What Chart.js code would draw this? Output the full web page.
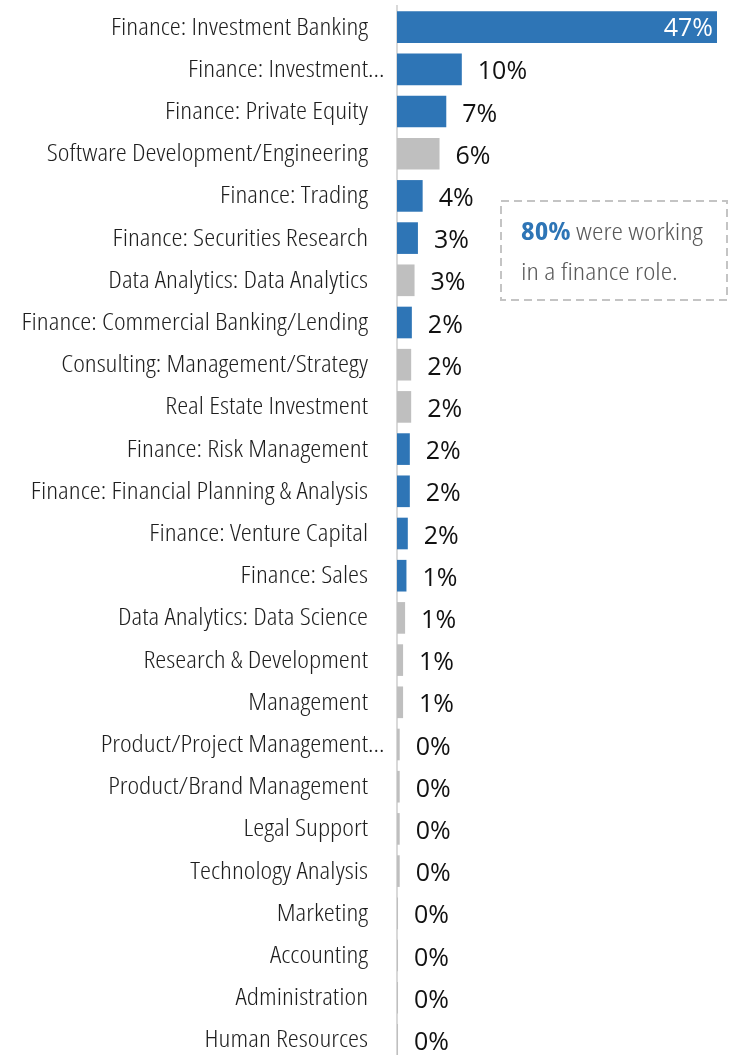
<!DOCTYPE html>
<html>
<head>
<meta charset="utf-8">
<script src="https://cdn.jsdelivr.net/npm/chart.js@4"></script>
<style>
  html, body { margin: 0; padding: 0; background: #fff; overflow: hidden; }
  #wrap { position: relative; width: 734px; height: 1062px; }
</style>
</head>
<body>
<div id="wrap"><canvas id="roleChart" width="734" height="1062"></canvas></div>
<script>
// roles, top to bottom
let roles = [
    "Finance: Investment Banking",
    "Finance: Investment...",
    "Finance: Private Equity",
    "Software Development/Engineering",
    "Finance: Trading",
    "Finance: Securities Research",
    "Data Analytics: Data Analytics",
    "Finance: Commercial Banking/Lending",
    "Consulting: Management/Strategy",
    "Real Estate Investment",
    "Finance: Risk Management",
    "Finance: Financial Planning & Analysis",
    "Finance: Venture Capital",
    "Finance: Sales",
    "Data Analytics: Data Science",
    "Research & Development",
    "Management",
    "Product/Project Management...",
    "Product/Brand Management",
    "Legal Support",
    "Technology Analysis",
    "Marketing",
    "Accounting",
    "Administration",
    "Human Resources"
];

// share of graduates in each role (%)
let shares = [
    47.4, 9.6, 7.3, 6.3, 3.8, 3.1, 2.6, 2.2, 2.1, 2.1,
    1.9, 1.9, 1.6, 1.4, 1.2, 0.9, 0.9, 0.4, 0.4, 0.4,
    0.4, 0.15, 0.15, 0.15, 0.15
];

let calloutHighlight = "80%";
let calloutLines = [" were working", "in a finance role."];

const BLUE = "#2e75b6";
const GREY = "#bfbfbf";
const LABEL_FONT = '"Open Sans", "DejaVu Sans Condensed", sans-serif';

let barColors = roles.map(r => r.indexOf("Finance") === 0 ? BLUE : GREY);

// the labels in the original use a narrow face; fit ours to the same width
function setNarrow(ctx, font) {
    ctx.font = font;
    try { ctx.fontStretch = "semi-condensed"; } catch (e) {}
}
function squeezeFactor(ctx) {
    setNarrow(ctx, "300 23px " + LABEL_FONT);
    let w = ctx.measureText("Finance: Investment Banking").width;
    return 257 / w;
}
function squeezedText(ctx, txt, x, y, sx) {
    ctx.save();
    ctx.translate(x, y);
    ctx.scale(sx, 1);
    ctx.fillText(txt, 0, 0);
    ctx.restore();
}

// category labels drawn at the y scale's tick positions
const roleLabels = {
    id: "roleLabels",
    afterDraw(chart) {
        let ctx = chart.ctx;
        let yScale = chart.scales.y;
        let right = chart.chartArea.left - 29;
        ctx.save();
        let sx = squeezeFactor(ctx);
        setNarrow(ctx, "300 23px " + LABEL_FONT);
        ctx.fillStyle = "#1e1e1e";
        ctx.textBaseline = "middle";
        yScale.ticks.forEach((t, i) => {
            let label = yScale.getLabelForValue(t.value);
            let y = yScale.getPixelForTick(i) + 1;
            if (label.endsWith("...")) {
                // truncated labels: the words line up, the dots hang over
                let stem = label.slice(0, -3);
                ctx.textAlign = "left";
                squeezedText(ctx, label, right - ctx.measureText(stem).width * sx, y, sx);
            } else {
                ctx.textAlign = "right";
                squeezedText(ctx, label, right, y, sx);
            }
        });
        ctx.restore();
    }
};

// value labels next to / inside the bars
const valueLabels = {
    id: "valueLabels",
    afterDatasetsDraw(chart) {
        let ctx = chart.ctx;
        let meta = chart.getDatasetMeta(0);
        ctx.save();
        ctx.font = '25px "Open Sans", sans-serif';
        ctx.textBaseline = "middle";
        meta.data.forEach((bar, i) => {
            let txt = Math.round(shares[i]) + "%";
            if (bar.x - bar.base > 120) {
                ctx.fillStyle = "#ffffff";
                ctx.textAlign = "right";
                ctx.fillText(txt, bar.x - 4, bar.y + 2);
            } else {
                ctx.fillStyle = "#111111";
                ctx.textAlign = "left";
                ctx.fillText(txt, bar.x + 16, bar.y + 3);
            }
        });
        ctx.restore();
    }
};

// dashed callout box
const callout = {
    id: "callout",
    afterDraw(chart) {
        let ctx = chart.ctx;
        ctx.save();
        let sx = squeezeFactor(ctx);
        ctx.setLineDash([8, 5]);
        ctx.strokeStyle = "#c4c4c4";
        ctx.lineWidth = 2;
        ctx.strokeRect(501, 201, 226, 99);
        ctx.setLineDash([]);
        ctx.textAlign = "left";
        ctx.textBaseline = "alphabetic";
        setNarrow(ctx, "bold 24px " + LABEL_FONT);
        ctx.fillStyle = BLUE;
        squeezedText(ctx, calloutHighlight, 521, 240, sx);
        let w = ctx.measureText(calloutHighlight).width * sx;
        setNarrow(ctx, "300 24px " + LABEL_FONT);
        ctx.fillStyle = "#595959";
        squeezedText(ctx, calloutLines[0], 521 + w, 240, sx);
        squeezedText(ctx, calloutLines[1], 521, 280, sx);
        ctx.restore();
    }
};

new Chart(document.getElementById("roleChart").getContext("2d"), {
    type: "bar",
    data: {
        labels: roles,
        datasets: [{
            data: shares,
            backgroundColor: barColors,
            barPercentage: 0.75,
            categoryPercentage: 1.0
        }]
    },
    options: {
        indexAxis: "y",
        responsive: false,
        animation: false,
        layout: { padding: { top: 6, right: 17, bottom: 1, left: 0 } },
        plugins: {
            legend: { display: false },
            tooltip: { enabled: false }
        },
        scales: {
            x: {
                display: false,
                min: 0,
                max: 47.4
            },
            y: {
                grid: { display: false, drawTicks: false },
                border: { display: true, color: "#d9d9d9", width: 2 },
                ticks: { display: false, autoSkip: false },
                afterFit(scale) { scale.width = 397; }
            }
        }
    },
    plugins: [roleLabels, valueLabels, callout]
});
</script>
</body>
</html>
